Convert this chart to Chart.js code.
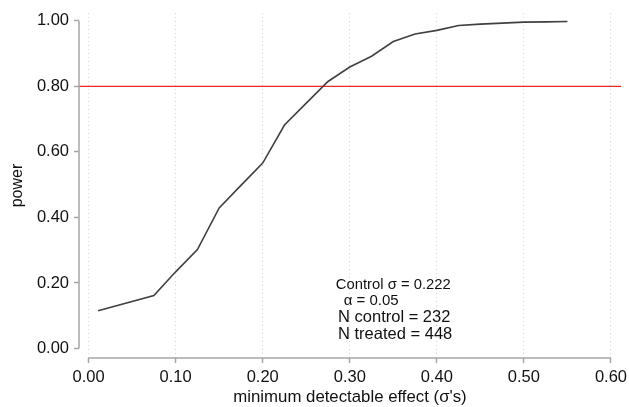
<!DOCTYPE html>
<html>
<head>
<meta charset="utf-8">
<script src="https://cdn.jsdelivr.net/npm/chart.js@4.4.1/dist/chart.umd.min.js"></script>
<style>
  html, body { margin: 0; padding: 0; background: #fff; }
  #wrap { width: 629px; height: 407px; }
</style>
</head>
<body>
<div id="wrap"><canvas id="powerChart" width="629" height="407"></canvas></div>
<script>
// valores
const mde = [0.011, 0.075, 0.10, 0.125, 0.15, 0.175, 0.20, 0.225, 0.25, 0.275, 0.30,
             0.325, 0.35, 0.375, 0.40, 0.425, 0.45, 0.475, 0.50, 0.525, 0.55];
const power = [0.115, 0.162, 0.234, 0.302, 0.429, 0.498, 0.566, 0.682, 0.749, 0.815, 0.859,
               0.892, 0.937, 0.960, 0.971, 0.986, 0.990, 0.993, 0.996, 0.997, 0.998];
const xTicks = [0, 0.1, 0.2, 0.3, 0.4, 0.5, 0.6];
const yTicks = [0, 0.2, 0.4, 0.6, 0.8, 1.0];
const targetPower = 0.80;
const notas = ['Control σ = 0.222', 'α = 0.05', 'N control = 232', 'N treated = 448'];

const xMin = -0.011, xMax = 0.6115;
const yMin = -0.029, yMax = 1.024;

const fontFam = '"Liberation Sans", Arial, sans-serif';
const axisGray = '#a6a6a6';

// ejes separados como en Stata
const ejesPlugin = {
    id: 'ejes',
    afterDraw(chart) {
        const ctx = chart.ctx;
        const xs = chart.scales.x, ys = chart.scales.y;
        ctx.save();
        ctx.strokeStyle = axisGray;
        ctx.lineWidth = 1.5;
        ctx.beginPath();
        ctx.moveTo(xs.getPixelForValue(xTicks[0]), xs.top);
        ctx.lineTo(xs.getPixelForValue(xTicks[xTicks.length - 1]), xs.top);
        ctx.moveTo(ys.right, ys.getPixelForValue(yTicks[0]));
        ctx.lineTo(ys.right, ys.getPixelForValue(yTicks[yTicks.length - 1]));
        ctx.stroke();

        // texto de la nota
        ctx.fillStyle = '#111';
        ctx.textAlign = 'left';
        ctx.textBaseline = 'middle';
        const pos = [[0.284, 0.194, 14.8], [0.293, 0.146, 15], [0.2865, 0.096, 16.5], [0.2865, 0.044, 16.5]];
        notas.forEach((t, i) => {
            ctx.font = pos[i][2] + 'px ' + fontFam;
            ctx.fillText(t, xs.getPixelForValue(pos[i][0]), ys.getPixelForValue(pos[i][1]));
        });
        ctx.restore();
    }
};

const ctx = document.getElementById('powerChart').getContext('2d');
const chart = new Chart(ctx, {
    type: 'line',
    data: {
        datasets: [{
            label: 'power',
            data: mde.map((x, i) => ({ x: x, y: power[i] })),
            borderColor: '#404040',
            borderWidth: 1.6,
            pointRadius: 0,
            fill: false,
            tension: 0
        }, {
            label: 'objetivo',
            data: [{ x: xMin, y: targetPower }, { x: xMax, y: targetPower }],
            borderColor: '#f0262e',
            borderWidth: 1.3,
            pointRadius: 0,
            fill: false
        }]
    },
    options: {
        responsive: false,
        animation: false,
        events: [],
        layout: { padding: { top: 13, right: 8, left: 0, bottom: 0 } },
        plugins: { legend: { display: false }, tooltip: { enabled: false } },
        scales: {
            x: {
                type: 'linear',
                min: xMin,
                max: xMax,
                afterBuildTicks(scale) { scale.ticks = xTicks.map(v => ({ value: v })); },
                afterFit(scale) { scale.height = 49; scale.paddingLeft = 0; scale.paddingRight = 0; },
                border: { display: false, dash: [1, 3] },
                grid: {
                    color: '#d4d4d4',
                    lineWidth: 1,
                    tickColor: axisGray,
                    tickLength: 5,
                    tickWidth: 1.5
                },
                ticks: {
                    color: '#111',
                    font: { family: fontFam, size: 16.5 },
                    padding: 5,
                    maxRotation: 0,
                    callback: v => v.toFixed(2)
                },
                title: {
                    display: true,
                    text: "minimum detectable effect (σ's)",
                    color: '#111',
                    font: { family: fontFam, size: 16.8 },
                    padding: { top: 0, bottom: 0 }
                }
            },
            y: {
                type: 'linear',
                min: yMin,
                max: yMax,
                afterBuildTicks(scale) { scale.ticks = yTicks.map(v => ({ value: v })); },
                afterFit(scale) { scale.width = 79; scale.paddingTop = 0; scale.paddingBottom = 0; },
                border: { display: false },
                grid: {
                    drawOnChartArea: false,
                    tickColor: axisGray,
                    tickLength: 5,
                    tickWidth: 1.5
                },
                ticks: {
                    color: '#111',
                    font: { family: fontFam, size: 16.5 },
                    padding: 5,
                    callback: v => v.toFixed(2)
                },
                title: {
                    display: true,
                    text: 'power',
                    color: '#111',
                    font: { family: fontFam, size: 16 },
                    padding: { top: 8, bottom: 0 }
                }
            }
        }
    },
    plugins: [ejesPlugin]
});
</script>
</body>
</html>
